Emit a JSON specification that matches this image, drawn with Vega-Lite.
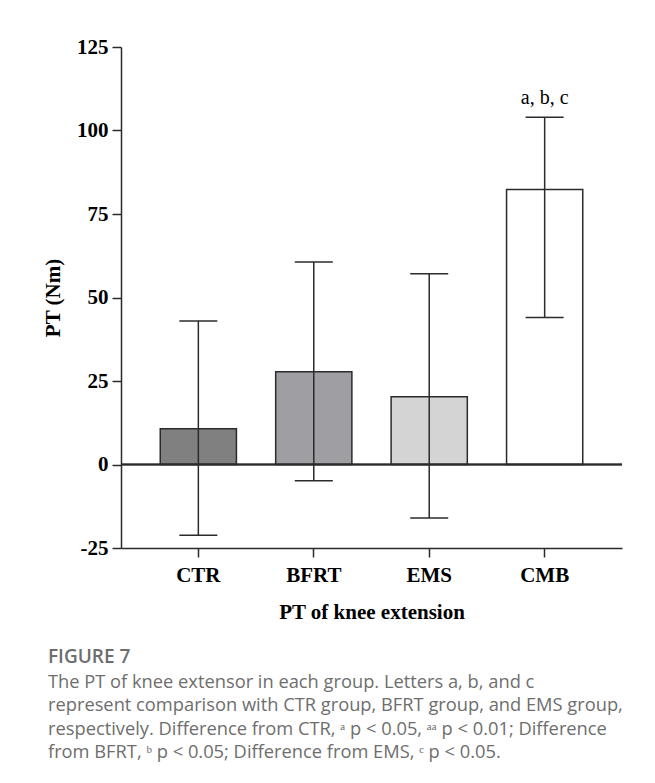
{
  "$schema": "https://vega.github.io/schema/vega-lite/v6.json",
  "width": 501,
  "height": 501,
  "autosize": {"type": "none"},
  "padding": {"left": 121, "top": 47, "right": 33, "bottom": 235},
  "background": "white",
  "data": {"values": [
    {"group": "CTR", "mean": 10.7, "lo": -21.2, "hi": 43.0, "label": ""},
    {"group": "BFRT", "mean": 27.8, "lo": -4.9, "hi": 60.6, "label": ""},
    {"group": "EMS", "mean": 20.3, "lo": -16.0, "hi": 57.1, "label": ""},
    {"group": "CMB", "mean": 82.3, "lo": 44.0, "hi": 104.0, "label": "a, b, c"}
  ]},
  "title": {
    "text": "FIGURE 7",
    "subtitle": [
      "The PT of knee extensor in each group. Letters a, b, and c",
      "represent comparison with CTR group, BFRT group, and EMS group,",
      "respectively. Difference from CTR, ᵃ p < 0.05, ᵃᵃ p < 0.01; Difference",
      "from BFRT, ᵇ p < 0.05; Difference from EMS, ᶜ p < 0.05."
    ],
    "orient": "bottom",
    "anchor": "start",
    "frame": "group",
    "dx": -73,
    "offset": 26,
    "font": "Open Sans",
    "fontSize": 19,
    "fontWeight": 600,
    "color": "#6e6e6e",
    "subtitleFont": "Open Sans",
    "subtitleFontSize": 18.3,
    "subtitleFontWeight": "normal",
    "subtitleColor": "#6e6e6e",
    "subtitleLineHeight": 23.3,
    "subtitlePadding": 7
  },
  "config": {
    "view": {"stroke": null},
    "axis": {
      "grid": false,
      "domainColor": "#2b2b2b",
      "domainWidth": 1.5,
      "tickColor": "#2b2b2b",
      "tickWidth": 1.5,
      "tickSize": 9,
      "labelFont": "Liberation Serif",
      "labelFontWeight": "bold",
      "labelFontSize": 21,
      "labelColor": "black",
      "titleFont": "Liberation Serif",
      "titleFontWeight": "bold",
      "titleFontSize": 21,
      "titleColor": "black"
    }
  },
  "layer": [
    {
      "mark": {"type": "bar", "stroke": "#2b2b2b", "strokeWidth": 1.5},
      "encoding": {
        "x": {
          "field": "group", "type": "nominal",
          "sort": ["CTR", "BFRT", "EMS", "CMB"],
          "scale": {"paddingInner": 0.34, "paddingOuter": 0.34},
          "axis": {"labelAngle": 0, "labelPadding": 7, "title": "PT of knee extension", "titlePadding": 16, "labelFontSize": 21}
        },
        "y": {
          "field": "mean", "type": "quantitative",
          "scale": {"domain": [-25, 125], "nice": false, "zero": false},
          "axis": {"values": [-25, 0, 25, 50, 75, 100, 125], "labelExpr": "'' + datum.value", "labelPadding": 4, "title": "PT (Nm)", "titlePadding": 13}
        },
        "fill": {
          "field": "group", "type": "nominal",
          "scale": {"domain": ["CTR", "BFRT", "EMS", "CMB"], "range": ["#808080", "#9f9ea3", "#d4d4d4", "#ffffff"]},
          "legend": null
        }
      }
    },
    {
      "mark": {"type": "rule", "color": "#2b2b2b", "strokeWidth": 1.5},
      "encoding": {"y": {"datum": 0}}
    },
    {
      "mark": {"type": "rule", "color": "#2b2b2b", "strokeWidth": 1.5},
      "encoding": {
        "x": {"field": "group", "type": "nominal", "sort": ["CTR", "BFRT", "EMS", "CMB"]},
        "y": {"field": "lo", "type": "quantitative"},
        "y2": {"field": "hi"}
      }
    },
    {
      "mark": {"type": "tick", "size": 38, "thickness": 1.5, "color": "#2b2b2b", "opacity": 1},
      "encoding": {
        "x": {"field": "group", "type": "nominal", "sort": ["CTR", "BFRT", "EMS", "CMB"]},
        "y": {"field": "lo", "type": "quantitative"}
      }
    },
    {
      "mark": {"type": "tick", "size": 38, "thickness": 1.5, "color": "#2b2b2b", "opacity": 1},
      "encoding": {
        "x": {"field": "group", "type": "nominal", "sort": ["CTR", "BFRT", "EMS", "CMB"]},
        "y": {"field": "hi", "type": "quantitative"}
      }
    },
    {
      "mark": {"type": "text", "font": "Liberation Serif", "fontSize": 20, "baseline": "bottom", "dy": -9, "color": "black"},
      "encoding": {
        "x": {"field": "group", "type": "nominal", "sort": ["CTR", "BFRT", "EMS", "CMB"]},
        "y": {"field": "hi", "type": "quantitative"},
        "text": {"field": "label"}
      }
    }
  ]
}
